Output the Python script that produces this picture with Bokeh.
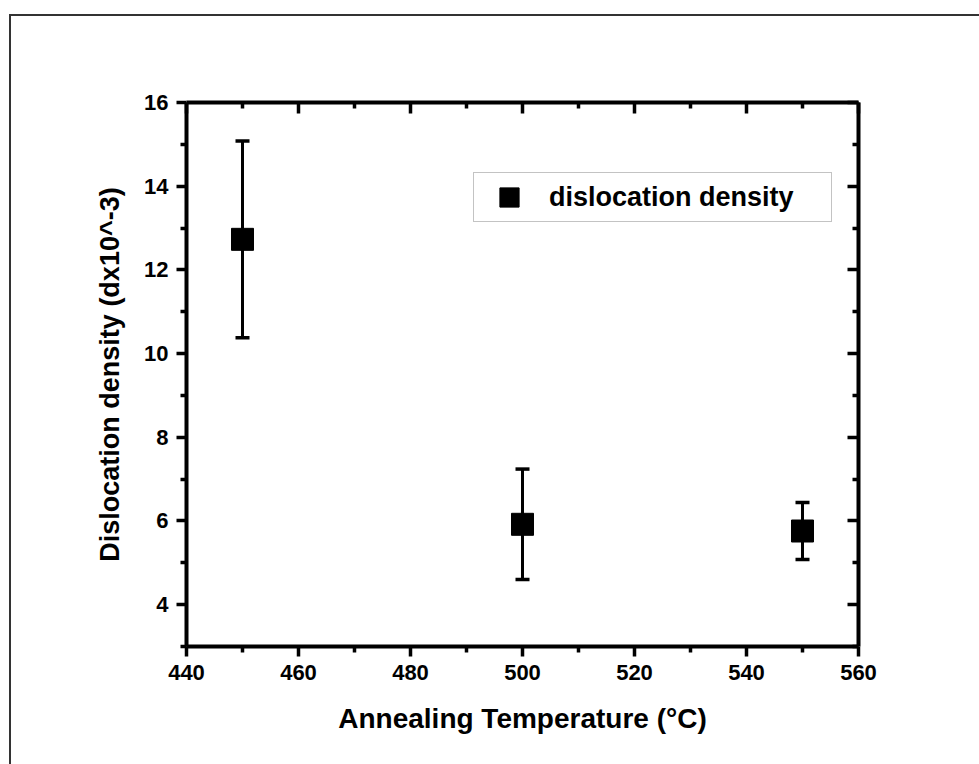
from bokeh.plotting import figure
from bokeh.models import (ColumnDataSource, Whisker, TeeHead, LinearAxis, FixedTicker,
                          Legend, LegendItem, Range1d)
from bokeh.embed import file_html
from bokeh.resources import INLINE

# ---- data ----
temperature = [450, 500, 550]
density = [12.73, 5.92, 5.76]
error = [2.35, 1.32, 0.68]
x_ticks = [440, 460, 480, 500, 520, 540, 560]
x_minor = [450, 470, 490, 510, 530, 550]
y_ticks = [4, 6, 8, 10, 12, 14, 16]
y_minor = [3, 5, 7, 9, 11, 13, 15]
x_title = "Annealing Temperature (°C)"
y_title = "Dislocation density (dx10^-3)"
series_name = "dislocation density"

upper = [d + e for d, e in zip(density, error)]
lower = [d - e for d, e in zip(density, error)]
src = ColumnDataSource(dict(x=temperature, y=density, upper=upper, lower=lower))

FONT = "Liberation Sans"

p = figure(width=968, height=748, output_backend="svg", toolbar_location=None,
           x_range=Range1d(440, 560), y_range=Range1d(3, 16),
           frame_width=672, frame_height=544,
           min_border_left=175, min_border_right=121, min_border_top=86, min_border_bottom=118,
           x_axis_location=None, y_axis_location=None)
p.styles = {"margin-left": "9px", "margin-top": "14px",
            "border-left": "2px solid #333333", "border-top": "2px solid #333333"}
p.background_fill_color = "white"
p.border_fill_color = "white"
p.outline_line_color = None
p.xgrid.visible = False
p.ygrid.visible = False

xt = FixedTicker(ticks=x_ticks, minor_ticks=x_minor)
yt = FixedTicker(ticks=y_ticks, minor_ticks=y_minor)

def style_axis(ax, labels=True, outward=True):
    ax.axis_line_width = 4
    ax.axis_line_color = "black"
    ax.major_tick_line_width = 3.5
    ax.minor_tick_line_width = 3.5
    ax.major_tick_line_color = "black"
    ax.minor_tick_line_color = "black"
    if outward:
        ax.major_tick_out = 10
        ax.major_tick_in = 0
        ax.minor_tick_out = 6
        ax.minor_tick_in = 0
    else:
        ax.major_tick_out = 0
        ax.major_tick_in = 11
        ax.minor_tick_out = 0
        ax.minor_tick_in = 6
    if labels:
        ax.major_label_text_font = FONT
        ax.major_label_text_font_style = "bold"
        ax.major_label_text_font_size = "22px"
        ax.major_label_text_color = "black"
        ax.axis_label_text_font = FONT
        ax.axis_label_text_font_style = "bold"
        ax.axis_label_text_font_size = "27px"
        ax.axis_label_text_color = "black"
    else:
        ax.major_label_overrides = {t: "" for t in ax.ticker.ticks}

xb = LinearAxis(ticker=xt, axis_label=x_title)
style_axis(xb)
xb.major_label_standoff = 8
xb.axis_label_standoff = 20
xb.axis_label_text_font_size = "28px"
p.add_layout(xb, "below")

yl = LinearAxis(ticker=yt, axis_label=y_title)
style_axis(yl)
yl.major_label_standoff = 8
yl.axis_label_standoff = 16
p.add_layout(yl, "left")

xtop = LinearAxis(ticker=xt)
style_axis(xtop, labels=False, outward=False)
p.add_layout(xtop, "above")

yr = LinearAxis(ticker=yt)
style_axis(yr, labels=False, outward=False)
p.add_layout(yr, "right")

w = Whisker(source=src, base="x", upper="upper", lower="lower",
            line_width=3, line_color="black",
            upper_head=TeeHead(size=14, line_width=3.5, line_color="black"),
            lower_head=TeeHead(size=14, line_width=3.5, line_color="black"))
p.add_layout(w)

sc = p.scatter("x", "y", source=src, marker="square", size=22,
               fill_color="black", line_color="black")

legend = Legend(items=[LegendItem(label=series_name, renderers=[sc])],
                location=(287, 424), orientation="vertical",
                padding=0, margin=0, spacing=0,
                glyph_width=70, glyph_height=48, label_standoff=5, label_width=282,
                label_height=48,
                label_text_font=FONT, label_text_font_style="bold", label_text_font_size="27px",
                label_text_color="black",
                border_line_color="#888888", border_line_width=1.5,
                background_fill_color="white", background_fill_alpha=1)
p.add_layout(legend, "center")

open("out.html", "w").write(file_html(p, INLINE))
